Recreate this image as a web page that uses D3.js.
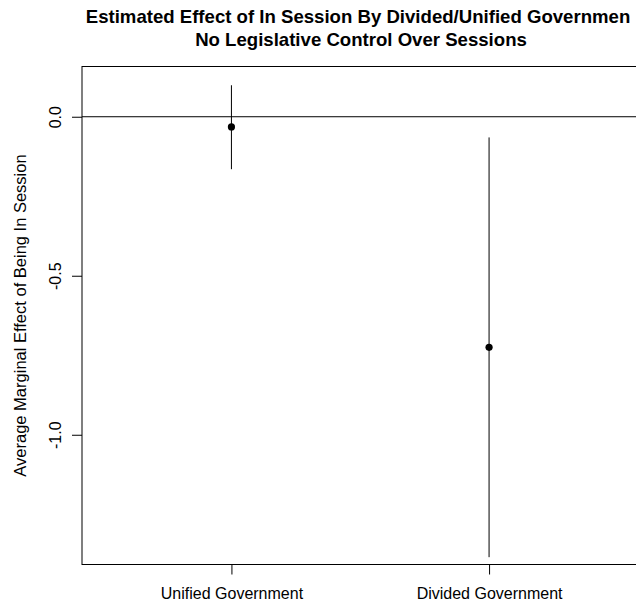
<!DOCTYPE html>
<html>
<head>
<meta charset="utf-8">
<script src="https://cdn.jsdelivr.net/npm/d3@7"></script>
<style>
  body { margin: 0; background: #fff; }
  svg { display: block; font-family: "Liberation Sans", Arial, sans-serif; }
  .tick text { font-size: 16px; fill: #000; }
</style>
</head>
<body>
<div id="chart"></div>
<script>
// data
const groups = ["Unified Government", "Divided Government"];
const estimates = [-0.032, -0.725];
const lower = [-0.165, -1.385];
const upper = [0.099, -0.065];
const yTicks = [0, -0.5, -1.0];

const W = 636, H = 604;
const box = {left: 82, right: 638.5, top: 66.5, bottom: 564.5};

const svg = d3.select("#chart")
    .append("svg")
    .attr("width", W)
    .attr("height", H);

// R style limits: xlim c(0.5, 2.5), ylim c(-1.35, 0.1) plus 4%
const x = d3.scaleLinear()
    .domain([0.42, 2.58])
    .range([box.left, box.right]);
const y = d3.scaleLinear()
    .domain([-1.35 - 0.058, 0.1 + 0.058])
    .range([box.bottom, box.top]);

const data = groups.map((g, i) => ({g, pos: i + 1, est: estimates[i], lo: lower[i], hi: upper[i]}));

// plot box
svg.append("rect")
    .attr("x", box.left)
    .attr("y", box.top)
    .attr("width", box.right - box.left)
    .attr("height", box.bottom - box.top)
    .attr("fill", "none")
    .attr("stroke", "#000")
    .attr("stroke-width", 1);

// reference line at zero
svg.append("line")
    .attr("x1", box.left)
    .attr("x2", box.right)
    .attr("y1", y(0))
    .attr("y2", y(0))
    .attr("stroke", "#000");

// axes
svg.append("g")
    .attr("transform", `translate(0,${box.bottom})`)
    .call(d3.axisBottom(x).tickValues([1, 2]).tickFormat((d, i) => groups[i]).tickSize(10).tickPadding(13))
    .call(g => g.select(".domain").remove());

svg.append("g")
    .attr("transform", `translate(${box.left},0)`)
    .call(d3.axisLeft(y).tickValues(yTicks).tickFormat(d => d.toFixed(1)).tickSize(10))
    .call(g => g.select(".domain").remove())
    .call(g => g.selectAll(".tick text")
        .attr("x", null)
        .attr("dy", null)
        .attr("text-anchor", "middle")
        .attr("transform", "translate(-21,0) rotate(-90)"));

svg.selectAll(".tick line").attr("stroke", "#000");

// confidence intervals
svg.selectAll(".ci")
    .data(data)
    .join("line")
    .attr("class", "ci")
    .attr("x1", d => x(d.pos))
    .attr("x2", d => x(d.pos))
    .attr("y1", d => y(d.hi))
    .attr("y2", d => y(d.lo))
    .attr("stroke", "#000");

// point estimates
svg.selectAll(".pt")
    .data(data)
    .join("circle")
    .attr("class", "pt")
    .attr("cx", d => x(d.pos))
    .attr("cy", d => y(d.est))
    .attr("r", 3.6)
    .attr("fill", "#000");

// titles
svg.append("text")
    .attr("x", 358)
    .attr("y", 23)
    .attr("text-anchor", "middle")
    .attr("font-size", 18.6)
    .attr("font-weight", "bold")
    .text("Estimated Effect of In Session By Divided/Unified Governmen");
svg.append("text")
    .attr("x", 361)
    .attr("y", 46)
    .attr("text-anchor", "middle")
    .attr("font-size", 18.6)
    .attr("font-weight", "bold")
    .text("No Legislative Control Over Sessions");

svg.append("text")
    .attr("transform", `translate(26,${(box.top + box.bottom) / 2}) rotate(-90)`)
    .attr("text-anchor", "middle")
    .attr("font-size", 16.5)
    .text("Average Marginal Effect of Being In Session");
</script>
</body>
</html>
